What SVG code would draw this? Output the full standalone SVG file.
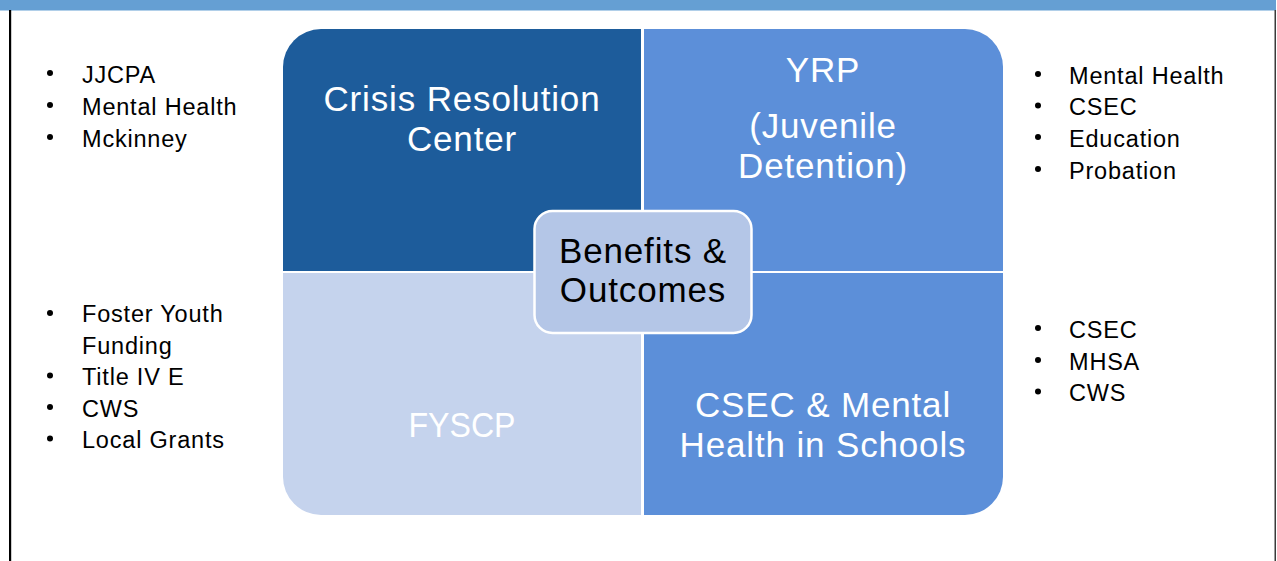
<svg xmlns="http://www.w3.org/2000/svg" width="1277" height="561" viewBox="0 0 1277 561">
  <style>
    .big { font-family: "Liberation Sans", Arial, sans-serif; font-size: 35px; letter-spacing: 0.85px; text-anchor: middle; fill: #ffffff; }
    .mid { font-family: "Liberation Sans", Arial, sans-serif; font-size: 35px; letter-spacing: 0.85px; text-anchor: middle; fill: #000000; }
    .item { font-family: "Liberation Sans", Arial, sans-serif; font-size: 23.5px; letter-spacing: 0.8px; fill: #000000; }
    .dot { fill: #000000; }
  </style>
  <rect x="0" y="0" width="1277" height="561" fill="#ffffff"/>
  <rect x="0" y="0" width="1276" height="10.5" fill="#659fd3"/>
  <rect x="9" y="10" width="2.2" height="551" fill="#000000"/>
  <rect x="1274.5" y="10" width="1.5" height="551" fill="#3a3a3a"/>

  <g id="crisis-resolution-center">
    <path d="M283,271 V67 A38,38 0 0 1 321,29 H641 V271 Z" fill="#1d5c9b"/>
    <text class="big" x="462" y="111">Crisis Resolution<tspan x="462" y="151">Center</tspan></text>
  </g>
  <g id="yrp">
    <path d="M644,29 H965 A38,38 0 0 1 1003,67 V271 H644 Z" fill="#5c8fd9"/>
    <text class="big" x="823" y="82">YRP<tspan x="823" y="138">(Juvenile</tspan><tspan x="823" y="178">Detention)</tspan></text>
  </g>
  <g id="fyscp">
    <path d="M283,273 H641 V515 H321 A38,38 0 0 1 283,477 Z" fill="#c5d3ed"/>
    <text class="big" x="462" y="437" style="letter-spacing:0" textLength="107" lengthAdjust="spacingAndGlyphs">FYSCP</text>
  </g>
  <g id="csec-mental-health">
    <path d="M644,273 H1003 V477 A38,38 0 0 1 965,515 H644 Z" fill="#5c8fd9"/>
    <text class="big" x="823" y="417">CSEC &amp; Mental<tspan x="823" y="457">Health in Schools</tspan></text>
  </g>
  <g id="benefits-outcomes">
    <rect x="534.5" y="211" width="217" height="122" rx="18" ry="18" fill="#b4c6e7" stroke="#ffffff" stroke-width="2.5"/>
    <text class="mid" x="643" y="262.5">Benefits &amp;<tspan x="643" y="302">Outcomes</tspan></text>
  </g>

  <g id="list-top-left">
    <circle class="dot" cx="50" cy="73" r="3"/>
    <text class="item" x="82" y="82.5">JJCPA</text>
    <circle class="dot" cx="50" cy="105" r="3"/>
    <text class="item" x="82" y="114.5">Mental Health</text>
    <circle class="dot" cx="50" cy="137" r="3"/>
    <text class="item" x="82" y="146.5">Mckinney</text>
  </g>
  <g id="list-bottom-left">
    <circle class="dot" cx="50" cy="313" r="3"/>
    <text class="item" x="82" y="322">Foster Youth<tspan x="82" y="353.5">Funding</tspan></text>
    <circle class="dot" cx="50" cy="375.5" r="3"/>
    <text class="item" x="82" y="385">Title IV E</text>
    <circle class="dot" cx="50" cy="407" r="3"/>
    <text class="item" x="82" y="416.5">CWS</text>
    <circle class="dot" cx="50" cy="438.5" r="3"/>
    <text class="item" x="82" y="448">Local Grants</text>
  </g>
  <g id="list-top-right">
    <circle class="dot" cx="1038" cy="74" r="3"/>
    <text class="item" x="1069" y="83.5">Mental Health</text>
    <circle class="dot" cx="1038" cy="105.5" r="3"/>
    <text class="item" x="1069" y="115">CSEC</text>
    <circle class="dot" cx="1038" cy="137" r="3"/>
    <text class="item" x="1069" y="146.5">Education</text>
    <circle class="dot" cx="1038" cy="169" r="3"/>
    <text class="item" x="1069" y="178.5">Probation</text>
  </g>
  <g id="list-bottom-right">
    <circle class="dot" cx="1038" cy="328" r="3"/>
    <text class="item" x="1069" y="337.5">CSEC</text>
    <circle class="dot" cx="1038" cy="360" r="3"/>
    <text class="item" x="1069" y="369.5">MHSA</text>
    <circle class="dot" cx="1038" cy="391.5" r="3"/>
    <text class="item" x="1069" y="401">CWS</text>
  </g>
  <g id="connectors"></g>
</svg>
